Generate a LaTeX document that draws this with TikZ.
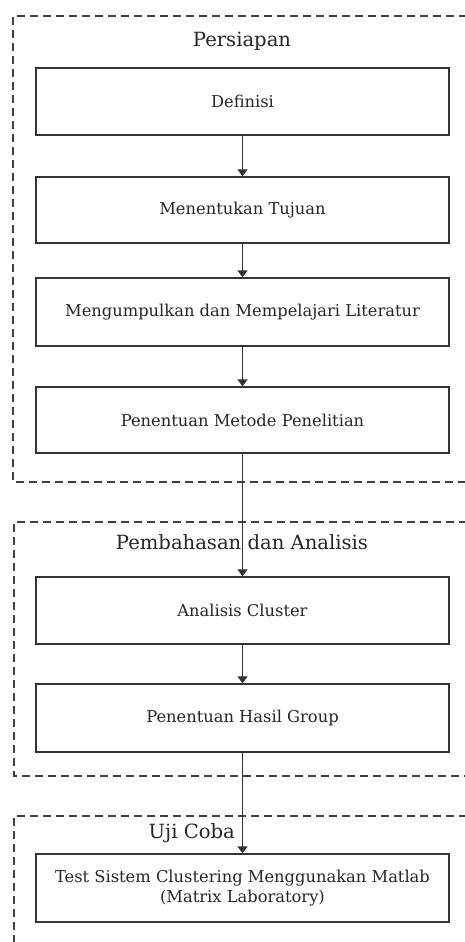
\documentclass[tikz,border=0pt]{standalone}
\usepackage{fontspec}
\setmainfont{DejaVu Serif}
\usetikzlibrary{arrows.meta}
\begin{document}
\begin{tikzpicture}[x=1pt,y=-1pt,
  stepbox/.style={draw=black!80, line width=1.4pt, minimum width=413pt, inner sep=0pt, align=center, text=black!85, font=\fontsize{16.3}{20}\selectfont},
  grp/.style={draw=black!75, line width=1.2pt, dash pattern=on 8pt off 5pt},
  lbl/.style={inner sep=0pt, text=black!85, font=\fontsize{19.6}{22}\selectfont},
  flow/.style={draw=black!80, line width=1.8pt, -{Triangle[length=7pt,width=10pt]}}]
\useasboundingbox (0,0) rectangle (465,942);
\clip (0,0) rectangle (465,942);
\fill[white] (0,0) rectangle (465,942);
% group frames
\draw[grp] (480,16) -- (13,16) -- (13,482) -- (480,482);
\draw[grp] (480,522) -- (14,522) -- (14,776) -- (480,776);
\draw[grp] (480,816) -- (14,816) -- (14,950);
% labels
\node[lbl] (lp) at (242,41) {Persiapan};
\node[lbl] (lb) at (242,542) {Pembahasan dan Analisis};
\node[lbl, anchor=east] (lu) at (235,833) {Uji Coba};
% steps
\node[stepbox, minimum height=67pt] (def) at (242.5,101.5) {Definisi};
\node[stepbox, minimum height=66pt] (tuj) at (242.5,210) {Menentukan Tujuan};
\node[stepbox, minimum height=68pt] (lit) at (242.5,312) {Mengumpulkan dan Mempelajari Literatur};
\node[stepbox, minimum height=66pt] (met) at (242.5,420) {Penentuan Metode Penelitian};
\node[stepbox, minimum height=67pt] (ana) at (242.5,610.5) {Analisis Cluster};
\node[stepbox, minimum height=68pt] (has) at (242.5,718) {Penentuan Hasil Group};
\node[stepbox, minimum height=68pt] (tes) at (242.5,888) {Test Sistem Clustering Menggunakan Matlab\\(Matrix Laboratory)};
% connectors
\draw[flow] (def) -- (tuj);
\draw[flow] (tuj) -- (lit);
\draw[flow] (lit) -- (met);
\draw[flow] (met) -- (ana);
\draw[flow] (ana) -- (has);
\draw[flow] (has) -- (tes);
\end{tikzpicture}
\end{document}
